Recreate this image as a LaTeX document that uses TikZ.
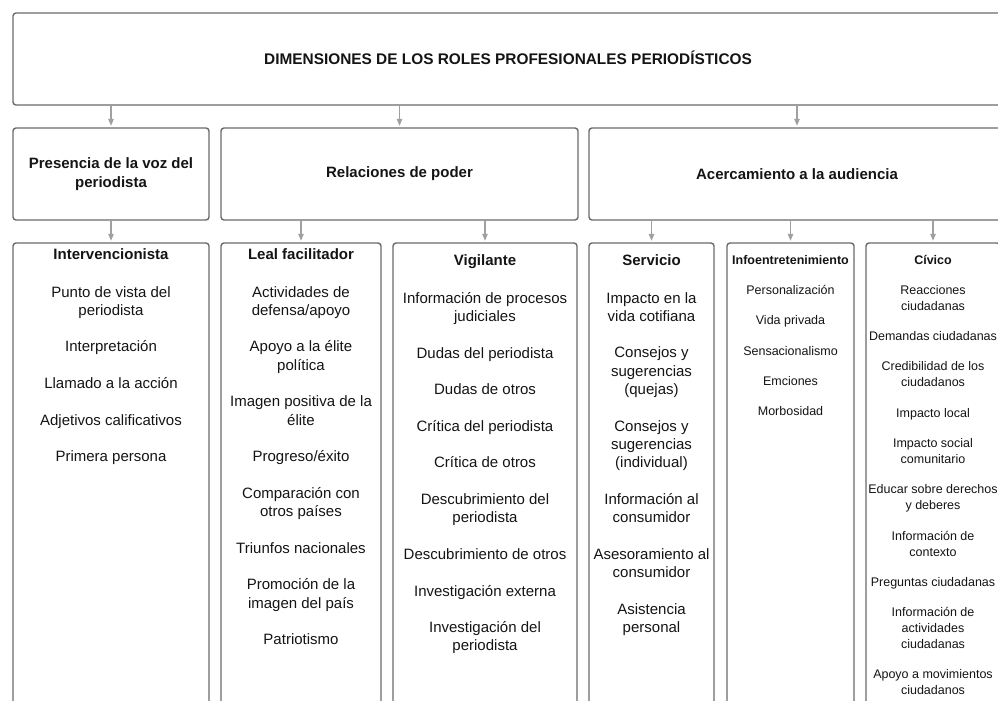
\documentclass[tikz,border=0pt]{standalone}
\usepackage{fontspec}
\setmainfont{Liberation Sans}
\usetikzlibrary{arrows.meta}
\definecolor{bordegris}{HTML}{6A6A6A}
\definecolor{flechagris}{HTML}{A0A0A0}
\definecolor{texto}{HTML}{141414}
\newcommand{\salto}{\\[18.3pt]}
\newcommand{\saltochico}{\\[14.3pt]}
\begin{document}
\begin{tikzpicture}[x=1pt,y=-1pt,
        caja/.style={draw=bordegris,line width=1.4pt,rounded corners=3pt,inner sep=0pt,text=texto},
        flecha/.style={draw=flechagris,line width=1.2pt,-{Triangle[width=5.5pt,length=7pt]},shorten >=1.5pt},
        titulo/.style={font=\fontsize{15}{18.3}\selectfont\bfseries,text=texto,align=center},
        titulochico/.style={font=\fontsize{12.5}{16}\selectfont\bfseries,text=texto},
        lista/.style={font=\fontsize{15}{18.3}\selectfont,text=texto,align=center,anchor=north,inner sep=0pt},
        listachica/.style={lista,font=\fontsize{12.5}{16}\selectfont}]
    %\draw[help lines] (0,0) grid (998,701);
    \useasboundingbox (0,0) rectangle (998,701);
    % dimensiones
    \node[caja,titulo,font=\fontsize{15.4}{18.3}\selectfont\bfseries,minimum width=990pt,minimum height=92pt,text height=11pt,text depth=0pt] (dim) at (508,59) {DIMENSIONES DE LOS ROLES PROFESIONALES PERIODÍSTICOS};
    \node[caja,titulo,minimum width=196pt,minimum height=92pt] (pres) at (111,174) {Presencia de la voz del\\periodista};
    \node[caja,titulo,minimum width=357pt,minimum height=92pt] (rel) at (399.5,174) {Relaciones de poder};
    \node[caja,titulo,minimum width=416pt,minimum height=92pt] (acer) at (797,174) {Acercamiento a la audiencia};
    % roles
    \node[caja,minimum width=196pt,minimum height=517pt] (inter) at (111,501.5) {};
    \node[caja,minimum width=160pt,minimum height=517pt] (leal) at (301,501.5) {};
    \node[caja,minimum width=184pt,minimum height=517pt] (vigi) at (485,501.5) {};
    \node[caja,minimum width=125pt,minimum height=517pt] (serv) at (651.5,501.5) {};
    \node[caja,minimum width=127pt,minimum height=517pt] (info) at (790.5,501.5) {};
    \node[caja,minimum width=134pt,minimum height=517pt] (civi) at (933,501.5) {};
    \draw[flecha] (dim.south -| pres) -- (pres.north);
    \draw[flecha] (dim.south -| rel) -- (rel.north);
    \draw[flecha] (dim.south -| acer) -- (acer.north);
    \draw[flecha] (pres.south -| inter) -- (inter.north);
    \draw[flecha] (rel.south -| leal) -- (leal.north);
    \draw[flecha] (rel.south -| vigi) -- (vigi.north);
    \draw[flecha] (acer.south -| serv) -- (serv.north);
    \draw[flecha] (acer.south -| info) -- (info.north);
    \draw[flecha] (acer.south -| civi) -- (civi.north);
    % titulos de los roles
    \node[titulo,anchor=base] (tinter) at (111,259) {Intervencionista};
    \node[titulo,anchor=base] (tleal) at (301,259) {Leal facilitador};
    \node[titulo,anchor=base] (tvigi) at (485,265) {Vigilante};
    \node[titulo,anchor=base] (tserv) at (651.5,265) {Servicio};
    \node[titulochico,anchor=base] (tinfo) at (790.5,264) {Infoentretenimiento};
    \node[titulochico,anchor=base] (tcivi) at (933,264) {Cívico};
    % indicadores
    \node[lista] (linter) at (111,286) {Punto de vista del\\periodista\salto Interpretación\salto Llamado a la acción\salto Adjetivos calificativos\salto Primera persona};
    \node[lista] (lleal) at (301,286) {Actividades de\\defensa/apoyo\salto Apoyo a la élite\\política\salto Imagen positiva de la\\élite\salto Progreso/éxito\salto Comparación con\\otros países\salto Triunfos nacionales\salto Promoción de la\\imagen del país\salto Patriotismo};
    \node[lista] (lvigi) at (485,292) {Información de procesos\\judiciales\salto Dudas del periodista\salto Dudas de otros\salto Crítica del periodista\salto Crítica de otros\salto Descubrimiento del\\periodista\salto Descubrimiento de otros\salto Investigación externa\salto Investigación del\\periodista};
    \node[lista] (lserv) at (651.5,292) {Impacto en la\\vida cotifiana\salto Consejos y\\sugerencias\\(quejas)\salto Consejos y\\sugerencias\\(individual)\salto Información al\\consumidor\salto Asesoramiento al\\consumidor\salto Asistencia\\personal};
    \node[listachica] (linfo) at (790.5,285) {Personalización\saltochico Vida privada\saltochico Sensacionalismo\saltochico Emciones\saltochico Morbosidad};
    \node[listachica] (lcivi) at (933,285) {Reacciones\\ciudadanas\saltochico Demandas ciudadanas\saltochico Credibilidad de los\\ciudadanos\saltochico Impacto local\saltochico Impacto social\\comunitario\saltochico Educar sobre derechos\\y deberes\saltochico Información de\\contexto\saltochico Preguntas ciudadanas\saltochico Información de\\actividades\\ciudadanas\saltochico Apoyo a movimientos\\ciudadanos};
\end{tikzpicture}
\end{document}
